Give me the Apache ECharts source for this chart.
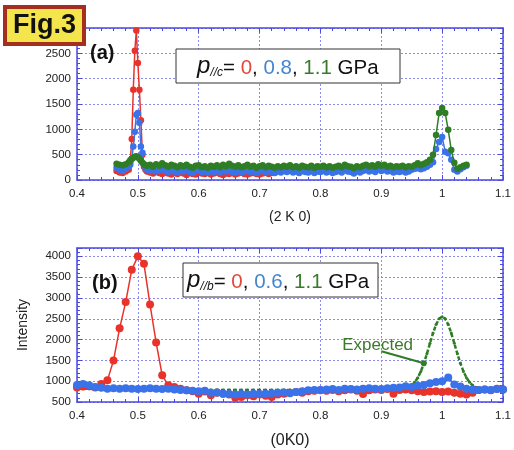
<!DOCTYPE html>
<html>
<head>
<meta charset="utf-8">
<script src="https://cdn.jsdelivr.net/npm/echarts@6/dist/echarts.min.js"></script>
<style>
html,body{margin:0;padding:0;background:#fff;}
#c{width:514px;height:450px;}
</style>
</head>
<body>
<div id="c"></div>
<script>
// ---------- Panel (a): (2 K 0) scan ----------
const aXSegments = [[0.465, 0.005, 5], [0.4875, 0.0025, 11], [0.515, 0.005, 106]];
const aRed = [
  180,150,140,170,200,
  350,810,1780,2550,2950,2310,1780,1180,500,260,200,
  170,150,130,160,140,120,150,130,110,140,
  120,150,130,100,140,120,110,150,130,120,
  140,110,130,150,120,100,130,120,140,110,
  130,150,120,110,130,140,120,110,130,150,
  120,140
];
const aBlue = [
  240,200,180,220,260,
  300,420,660,950,1290,1320,1130,660,540,300,220,
  200,180,210,170,190,220,180,160,200,170,
  150,180,170,200,160,140,180,190,160,170,
  150,180,160,190,150,200,170,190,160,150,
  180,150,170,190,160,180,140,170,190,150,
  180,160,140,170,150,180,160,190,150,170,
  140,180,160,150,180,140,170,160,180,150,
  170,140,160,180,150,200,170,160,130,170,
  150,180,200,170,190,160,210,180,200,170,
  180,150,170,160,180,150,170,200,220,
  230,210,230,260,300,350,610,750,850,560,530,400,200,170,210,250,280
];
const aGreen = [
  320,300,290,310,350,
  390,420,440,460,470,450,420,380,340,310,290,
  280,300,260,310,280,330,290,260,300,280,
  250,290,270,300,260,240,280,290,250,270,
  240,280,260,290,250,300,270,320,280,260,
  290,250,270,300,260,280,240,270,290,250,
  280,260,240,270,250,280,260,290,250,270,
  240,280,260,250,280,240,270,260,280,250,
  270,240,260,280,250,300,270,260,230,270,
  250,280,300,270,290,260,310,280,300,260,
  280,250,270,260,280,250,270,260,290,
  330,290,320,350,400,500,890,1320,1420,1320,990,590,340,220,250,280,300
];

// ---------- Panel (b): (0K0) scan ----------
const bXSegments = [[0.40, 0.01, 71]];
const bRed = [
  850,870,880,850,930,1020,1500,2270,2900,3680,
  4000,3820,2840,1930,1140,900,860,820,780,760,
  700,750,660,720,700,680,600,620,660,640,
  680,650,620,680,700,720,740,720,760,770,
  780,770,790,760,780,800,770,690,780,800,
  790,810,700,790,800,780,760,740,750,760,
  740,750,720,700,680,720,790,800,780,820,800
];
const bBlue = [
  910,930,900,860,840,820,830,820,830,820,
  810,820,830,820,810,820,800,790,780,770,
  760,770,720,730,700,690,680,690,680,700,
  690,700,710,720,730,710,740,760,780,790,
  790,800,810,790,820,810,800,820,830,820,
  810,830,840,850,880,860,890,910,950,980,
  1000,1090,920,870,820,800,790,800,790,810,800
];
const bGreenXSegments = [[0.40, 0.01, 55], [0.945, 0.005, 25], [1.07, 0.01, 4]];
const bGreen = [
  830,820,820,810,810,800,800,800,790,790,
  790,790,790,790,790,790,790,790,790,790,
  790,790,790,790,790,790,790,790,790,790,
  790,790,790,790,790,790,790,790,790,790,
  790,790,790,790,790,790,790,790,790,790,
  790,790,790,790,795,
  850,900,975,1085,1235,1430,1660,1910,2155,2360,2500,2550,2500,2360,2155,1910,1660,1430,1235,1085,975,900,855,830,815,
  810,805,800,800
];
const expectedLabel = 'Expected';
const expectedArrow = [[0.9, 1720], [0.97, 1430]];
const expectedTextAt = [0.894, 1870];

const xTicksMin = 0.4, xTicksMax = 1.1, xInterval = 0.1;
const aYMin = 0, aYMax = 3000, yInterval = 500;
const bYMin = 500, bYMax = 4200;

const C_RED = '#e8332b', C_BLUE = '#3a72ea', C_GREEN = '#2f7d25';
const T_RED = '#e4483b', T_BLUE = '#4486cc', T_GREEN = '#3a7b2b';
const AX = '#4a4ae0', GRIDC = '#8a8af0';
const FONT = '"Liberation Sans", Arial, sans-serif';

function buildX(segs) {
  const out = [];
  segs.forEach(([s, st, n]) => { for (let i = 0; i < n; i++) out.push(Math.round((s + i * st) * 10000) / 10000); });
  return out;
}
function pairs(xs, vs) { return vs.map((v, i) => [xs[i], v]); }
const aX = buildX(aXSegments), bX = buildX(bXSegments), bGX = buildX(bGreenXSegments);

function xAx(grid, pos, showLab, name, nameGap, nameSize) {
  return {
    type: 'value', gridIndex: grid, position: pos, min: xTicksMin, max: xTicksMax, interval: xInterval,
    axisLine: { show: true, onZero: false, lineStyle: { color: AX, width: 1.5 } },
    axisTick: { show: true, inside: true, length: 5, lineStyle: { color: AX } },
    minorTick: { show: true, splitNumber: 5, length: 3, lineStyle: { color: AX } },
    splitLine: { show: showLab, lineStyle: { color: GRIDC, type: [2, 2], width: 1 } },
    axisLabel: { show: showLab, color: '#222', fontSize: 11.5, fontFamily: FONT, margin: 8, formatter: v => String(Math.round(v * 10) / 10) },
    name: name || '', nameLocation: 'middle', nameGap: nameGap || 0,
    nameTextStyle: { color: '#222', fontSize: nameSize || 14, fontFamily: FONT }
  };
}
function yAx(grid, pos, showLab, min, max, name) {
  return {
    type: 'value', gridIndex: grid, position: pos, min: min, max: max, interval: yInterval,
    axisLine: { show: true, onZero: false, lineStyle: { color: AX, width: 1.5 } },
    axisTick: { show: true, inside: true, length: 5, lineStyle: { color: AX } },
    minorTick: { show: true, splitNumber: 5, length: 3, lineStyle: { color: AX } },
    splitLine: { show: showLab, lineStyle: { color: GRIDC, type: [2, 2], width: 1 } },
    axisLabel: { show: showLab, color: '#222', fontSize: 11.5, fontFamily: FONT, margin: 6, showMaxLabel: max % yInterval === 0, formatter: v => String(v) },
    name: name || '', nameLocation: 'middle', nameGap: 47,
    nameTextStyle: { color: '#222', fontSize: 14, fontFamily: FONT }
  };
}
function lineSeries(name, data, color, xi, yi, size, z) {
  return {
    name: name, type: 'line', data: data, xAxisIndex: xi, yAxisIndex: yi,
    symbol: 'circle', symbolSize: size, showSymbol: true, z: z,
    itemStyle: { color: color }, lineStyle: { color: color, width: 1.5 },
    animation: false
  };
}

const legendRich = {
  p: { fontStyle: 'italic', fontSize: 24, fontFamily: FONT, fill: '#111', verticalAlign: 'bottom', lineHeight: 25 },
  s: { fontStyle: 'italic', fontSize: 12, fontFamily: FONT, fill: '#111', verticalAlign: 'bottom', lineHeight: 11 },
  t: { fontSize: 20.5, fontFamily: FONT, fill: '#111', verticalAlign: 'bottom', lineHeight: 23 },
  r: { fontSize: 20.5, fontFamily: FONT, fill: T_RED, verticalAlign: 'bottom', lineHeight: 23 },
  b: { fontSize: 20.5, fontFamily: FONT, fill: T_BLUE, verticalAlign: 'bottom', lineHeight: 23 },
  g: { fontSize: 20.5, fontFamily: FONT, fill: T_GREEN, verticalAlign: 'bottom', lineHeight: 23 }
};

const chart = echarts.init(document.getElementById('c'), null, { renderer: 'canvas' });
chart.setOption({
  animation: false,
  backgroundColor: '#fff',
  grid: [
    { left: 77, right: 6, top: 28, height: 152, containLabel: false },
    { left: 77, right: 7, top: 248, height: 163, containLabel: false }
  ],
  xAxis: [
    xAx(0, 'bottom', true, '(2 K 0)', 30, 14),
    xAx(0, 'top', false),
    xAx(1, 'bottom', true, '(0K0)', 31, 16),
    xAx(1, 'top', false)
  ],
  yAxis: [
    yAx(0, 'left', true, aYMin, aYMax),
    yAx(0, 'right', false, aYMin, aYMax),
    yAx(1, 'left', true, bYMin, bYMax, 'Intensity'),
    yAx(1, 'right', false, bYMin, bYMax)
  ],
  series: [
    lineSeries('a0', pairs(aX, aRed), C_RED, 0, 0, 6.5, 2),
    lineSeries('a08', pairs(aX, aBlue), C_BLUE, 0, 0, 6.5, 3),
    lineSeries('a11', pairs(aX, aGreen), C_GREEN, 0, 0, 6.5, 4),
    Object.assign(lineSeries('bexp', pairs(bGX, bGreen), C_GREEN, 2, 2, 3, 2), {
      lineStyle: { color: C_GREEN, width: 2.5, type: [4, 2] },
      markLine: {
        silent: true, symbol: ['none', 'circle'], symbolSize: 6, animation: false,
        lineStyle: { color: C_GREEN, width: 2, type: 'solid' }, label: { show: false },
        data: [[{ coord: expectedArrow[0] }, { coord: expectedArrow[1] }]]
      },
      markPoint: {
        silent: true, animation: false, symbol: 'circle', symbolSize: 1,
        itemStyle: { color: 'rgba(0,0,0,0)' },
        label: { show: true, position: 'inside', formatter: expectedLabel, color: T_GREEN, fontSize: 17, fontFamily: FONT },
        data: [{ coord: expectedTextAt }]
      }
    }),
    lineSeries('b0', pairs(bX, bRed), C_RED, 2, 2, 8, 3),
    lineSeries('b06', pairs(bX, bBlue), C_BLUE, 2, 2, 8, 4)
  ],
  graphic: [
    { type: 'rect', z: 100, shape: { x: 5, y: 7, width: 79, height: 37 }, style: { fill: '#f3e54b', stroke: '#a52e1f', lineWidth: 4 } },
    { type: 'text', z: 101, x: 44.5, y: 26, style: { text: 'Fig.3', font: 'bold 27px ' + FONT, fill: '#111', align: 'center', verticalAlign: 'middle' } },
    { type: 'text', z: 101, x: 90, y: 53, style: { text: '(a)', font: 'bold 20px ' + FONT, fill: '#111', align: 'left', verticalAlign: 'middle' } },
    { type: 'text', z: 101, x: 92, y: 283, style: { text: '(b)', font: 'bold 20px ' + FONT, fill: '#111', align: 'left', verticalAlign: 'middle' } },
    { type: 'rect', z: 100, shape: { x: 176, y: 49, width: 224, height: 34 }, style: { fill: '#fff', stroke: '#333', lineWidth: 1 } },
    { type: 'text', z: 101, x: 197, y: 66, style: { text: '{p|p}{s|//c}{t|= }{r|0}{t|, }{b|0.8}{t|, }{g|1.1}{t| GPa}', rich: legendRich, align: 'left', verticalAlign: 'middle' } },
    { type: 'rect', z: 100, shape: { x: 183, y: 263, width: 195, height: 34 }, style: { fill: '#fff', stroke: '#333', lineWidth: 1 } },
    { type: 'text', z: 101, x: 187, y: 280, style: { text: '{p|p}{s|//b}{t|= }{r|0}{t|, }{b|0.6}{t|, }{g|1.1}{t| GPa}', rich: legendRich, align: 'left', verticalAlign: 'middle' } }
  ]
});
</script>
</body>
</html>
